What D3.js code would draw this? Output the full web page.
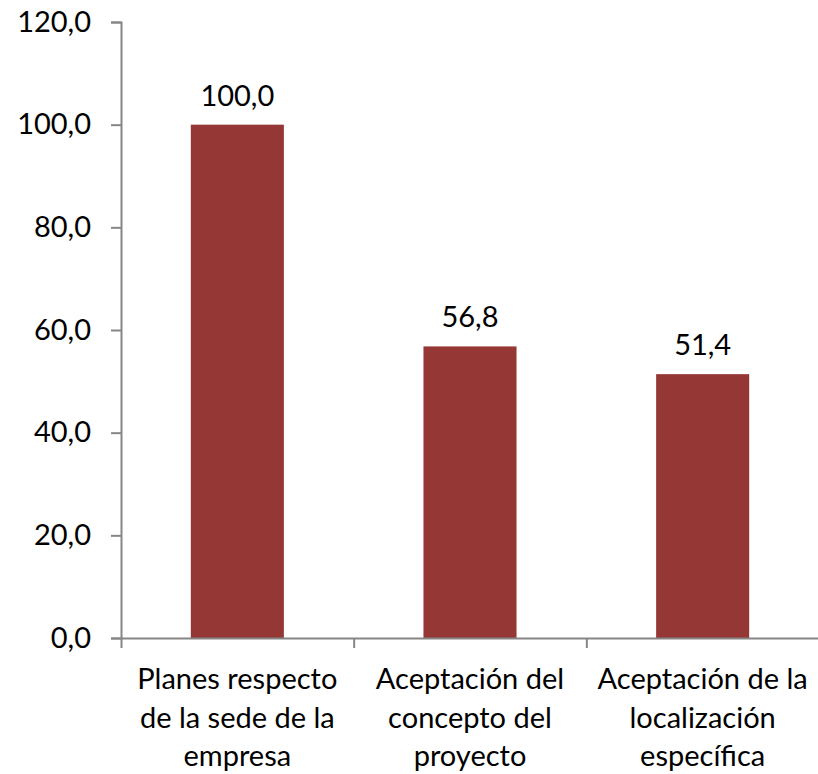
<!DOCTYPE html>
<html><head><meta charset="utf-8">
<script src="https://cdn.jsdelivr.net/npm/d3@7"></script>
<style>body{margin:0;background:#fff}svg{display:block}text{font-family:Lato,"Open Sans",sans-serif;fill:#000}</style>
</head><body><svg id="c" width="818" height="774"></svg>
<script>
const categories = [
  ["Planes respecto","de la sede de la","empresa"],
  ["Aceptación del","concepto del","proyecto"],
  ["Aceptación de la","localización","específica"]
];
const values = [100.0, 56.8, 51.4];
const yTicks = [0, 20, 40, 60, 80, 100, 120];

(function(){
const svg = d3.select("#c");
const mL = 121, mR = 819, mT = 22, mB = 638;
const FS = 29;
const fmt = v => d3.format(".1f")(v).replace(".", ",");
const keys = categories.map((d,i)=>i);
const x = d3.scaleBand().domain(keys).range([mL, mR]).paddingInner(0.6).paddingOuter(0.3);
const y = d3.scaleLinear().domain([0,120]).range([mB, mT]);
const axisColor = "#868686";

// y axis
const ya = svg.append("g").attr("transform",`translate(${mL},0)`)
  .call(d3.axisLeft(y).tickValues(yTicks).tickFormat(fmt).tickSize(10).tickPadding(20));
ya.select(".domain").attr("stroke",axisColor).attr("stroke-width",2);
ya.selectAll(".tick line").attr("stroke",axisColor).attr("stroke-width",2);
ya.selectAll(".tick text").attr("font-size",FS).attr("font-family","Lato").attr("fill","#000");

// bars
svg.selectAll("rect.bar").data(values).join("rect").attr("class","bar")
  .attr("x",(d,i)=>x(i)).attr("width",x.bandwidth())
  .attr("y",d=>y(d)).attr("height",d=>mB-y(d)).attr("fill","#953735");

// x axis
const step = x.step();
const xb = d3.scaleLinear().domain([0,3]).range([mL, mL+3*step]);
const xa = svg.append("g").attr("transform",`translate(0,${mB})`)
  .call(d3.axisBottom(xb).tickValues([0,1,2,3]).tickFormat("").tickSize(10).tickSizeOuter(0));
xa.select(".domain").attr("stroke",axisColor).attr("stroke-width",2);
xa.selectAll(".tick line").attr("stroke",axisColor).attr("stroke-width",2);

// value labels
svg.selectAll("text.val").data(values).join("text").attr("class","val")
  .attr("x",(d,i)=>x(i)+x.bandwidth()/2).attr("y",d=>y(d)-19)
  .attr("text-anchor","middle").attr("font-size",FS).text(fmt);

// category labels
categories.forEach((lines,i)=>{
  const cx = x(i)+x.bandwidth()/2;
  const t = svg.append("text").attr("text-anchor","middle").attr("font-size",FS);
  lines.forEach((l,j)=>t.append("tspan").attr("x",cx).attr("y",689+j*38.5).text(l));
});
})();
</script></body></html>
